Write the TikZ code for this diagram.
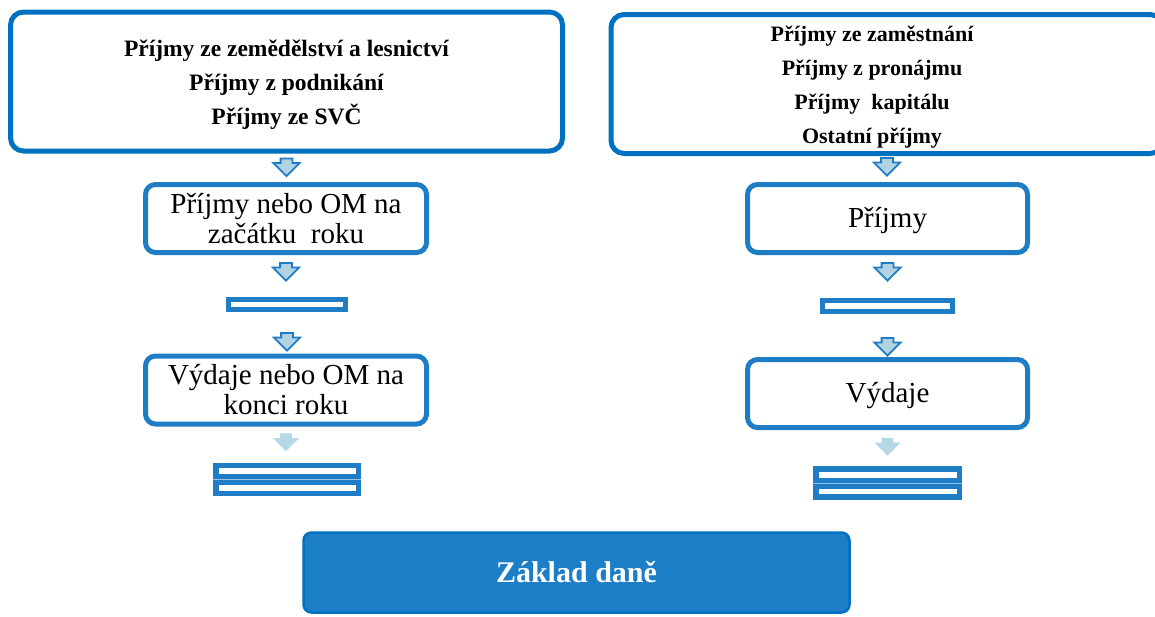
\documentclass[tikz,border=0pt]{standalone}
\usepackage{fontspec}
\setmainfont{Liberation Serif}
\usetikzlibrary{positioning,shapes.arrows}
\definecolor{topblue}{RGB}{0,112,192}
\definecolor{midblue}{RGB}{31,125,198}
\definecolor{arrfill}{RGB}{178,212,226}
\definecolor{palearr}{RGB}{182,215,229}
\definecolor{basefill}{RGB}{28,126,198}
\definecolor{seam}{RGB}{150,196,232}

\begin{document}
\begin{tikzpicture}[x=1pt, y=-1pt,
  bigbox/.style={draw=topblue, line width=5pt, rounded corners=13pt,
                 minimum width=552pt, minimum height=139pt},
  bigtext/.style={align=center, font=\bfseries\fontsize{#1}{34}\selectfont},
  midbox/.style={draw=midblue, line width=5pt, rounded corners=10pt,
                 minimum width=281pt, minimum height=68pt, align=center,
                 font=\fontsize{29}{30}\selectfont},
  barbox/.style={draw=midblue, line width=5pt, inner sep=0pt,
                 minimum height=10pt},
  dblbox/.style={draw=midblue, line width=5.5pt, inner sep=0pt,
                 minimum height=28pt},
  darr/.style={single arrow, draw=midblue, fill=arrfill, line width=1.8pt,
               shape border rotate=270, minimum height=15pt,
               minimum width=20pt, inner sep=5pt},
  parr/.style={darr, draw=none, fill=palearr},
  basebox/.style={draw=topblue, fill=basefill, line width=2.5pt,
                  rounded corners=8pt, minimum width=546pt,
                  minimum height=80pt, text=white,
                  font=\bfseries\fontsize{30}{36}\selectfont}
]
  \useasboundingbox (0,0) rectangle (1155,616);
  \clip (0,0) rectangle (1155,616);

  % left column
  \node[bigbox] (tl) at (286.5,81.5) {};
  \node[bigtext=23.5] (tltext) at (286.5,84.5)
    {Příjmy ze zemědělství a lesnictví\\Příjmy z podnikání\\Příjmy ze SVČ};
  \node[darr, below=4pt of tl] (la1) {};
  \node[midbox] (lprij) at (286,218.5) {Příjmy nebo OM na\\začátku\ \ roku};
  \node[darr, below=7pt of lprij] (la2) {};
  \node[barbox, minimum width=117pt] (lbar) at (287,304.5) {};
  \node[darr, below=20pt of lbar] (la3) {};
  \node[midbox] (lvyd) at (286,390) {Výdaje nebo OM na\\konci roku};
  \node[parr, below=6pt of lvyd] (la4) {};
  \node[dblbox, minimum width=142.5pt] (ldbl) at (287,479.5) {};

  % right column
  \node[bigbox] (tr) at (887,84) {};
  \node[bigtext=22] (trtext) at (872,87)
    {Příjmy ze zaměstnání\\Příjmy z pronájmu\\Příjmy\ \ kapitálu\\Ostatní příjmy};
  \node[darr, below=1pt of tr] (ra1) {};
  \node[midbox, minimum width=280pt, text depth=2pt] (rprij) at (887.5,218.5) {Příjmy};
  \node[darr, below=7pt of rprij] (ra2) {};
  \node[barbox, minimum width=130pt, minimum height=11pt] (rbar) at (887.5,306) {};
  \node[darr, below=23pt of rbar] (ra3) {};
  \node[midbox, minimum width=280pt, text depth=2pt] (rvyd) at (887.5,393.5) {Výdaje};
  \node[parr, below=7pt of rvyd] (ra4) {};
  \node[dblbox, minimum width=143.5pt] (rdbl) at (887.5,483) {};

  % middle rule of the double bars
  \foreach \d in {ldbl,rdbl}{
    \draw[midblue, line width=11pt] (\d.west) -- (\d.east);
    \draw[seam, line width=0.6pt] (\d.west) -- (\d.east);
  }

  \node[basebox] (base) at (576.5,572.5) {Základ daně};
\end{tikzpicture}
\end{document}
